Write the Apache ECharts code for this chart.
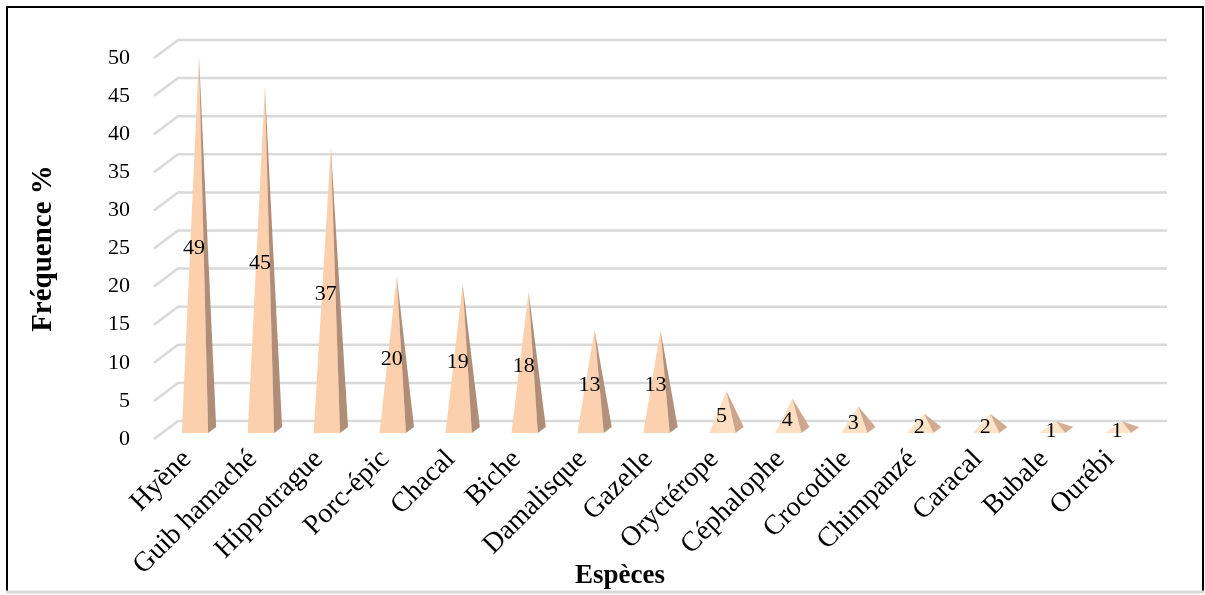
<!DOCTYPE html>
<html>
<head>
<meta charset="utf-8">
<script src="https://cdn.jsdelivr.net/npm/echarts@6/dist/echarts.min.js"></script>
<style>
html,body{margin:0;padding:0;background:#fff;}
#chart{width:1205px;height:595px;}
</style>
</head>
<body>
<div id="chart"></div>
<script>
const categories = ['Hyène','Guib hamaché','Hippotrague','Porc-épic','Chacal','Biche','Damalisque','Gazelle','Oryctérope','Céphalophe','Crocodile','Chimpanzé','Caracal','Bubale','Ourébi'];
const values = [49,45,37,20,19,18,13,13,5,4,3,2,2,1,1];
const yTicks = [0,5,10,15,20,25,30,35,40,45,50];

const FONT = '"Liberation Serif", "Times New Roman", serif';
const DX = 24, DY = 18; // depth offsets of the 3D floor

function mix(a, b, t) {
  const pa = a.match(/\w\w/g).map(h => parseInt(h, 16));
  const pb = b.match(/\w\w/g).map(h => parseInt(h, 16));
  return 'rgb(' + pa.map((x, i) => Math.round(x + (pb[i] - x) * t)).join(',') + ')';
}

const chart = echarts.init(document.getElementById('chart'), null, {renderer: 'canvas'});

const option = {
  backgroundColor: '#fff',
  animation: false,
  grid: {left: 154, right: 62, top: 58, bottom: 156, containLabel: false},
  xAxis: {
    type: 'category',
    data: categories,
    axisLine: {show: false},
    axisTick: {show: false},
    axisLabel: {rotate: 45, fontSize: 28, fontFamily: FONT, color: '#000', margin: 16, interval: 0}
  },
  yAxis: {
    type: 'value',
    min: 0, max: 50, interval: 5,
    name: 'Fréquence %',
    nameLocation: 'middle',
    nameGap: 96,
    nameTextStyle: {fontSize: 29, fontWeight: 'bold', fontFamily: FONT, color: '#000'},
    axisLine: {show: false},
    axisTick: {show: false},
    splitLine: {show: false},
    axisLabel: {fontSize: 22, fontFamily: FONT, color: '#000', margin: 24}
  },
  graphic: [
    {type: 'rect', shape: {x: 7, y: 7, width: 1196, height: 585}, style: {fill: 'none', stroke: '#000', lineWidth: 2}, z: 100},
    {type: 'line', shape: {x1: 6, y1: 592, x2: 1204, y2: 592}, style: {stroke: '#d9d9d9', lineWidth: 3}, z: 101},
    {type: 'text', x: 620, y: 576, style: {text: 'Espèces', fontSize: 27, fontWeight: 'bold', fontFamily: FONT, fill: '#000', align: 'center', verticalAlign: 'middle'}}
  ],
  series: [
    {
      type: 'custom',
      name: 'grid',
      silent: true,
      z: 1,
      data: yTicks.map(v => [0, v]),
      renderItem: function (params, api) {
        const cs = params.coordSys;
        const y = api.coord([0, api.value(1)])[1];
        return {
          type: 'polyline',
          shape: {points: [[cs.x, y], [cs.x + DX, y - DY], [cs.x + cs.width + DX, y - DY]]},
          style: {stroke: '#d9d9d9', lineWidth: 2.5, fill: null}
        };
      }
    },
    {
      type: 'custom',
      name: 'Fréquence',
      z: 2,
      data: values.map((v, i) => [i, v]),
      renderItem: function (params, api) {
        const i = api.value(0), v = api.value(1);
        const base = api.coord([i, 0]);
        const top = api.coord([i, v]);
        const mid = api.coord([i, v / 2]);
        const hw = api.size([1, 0])[0] * 0.2;
        const cx = base[0], by = base[1];
        const fl = [cx - hw + 8, by - 6];
        const fr = [cx + hw + 8, by - 6];
        const br = [cx + hw + 16, by - 12];
        const tip = [cx + 12, top[1] - 10];
        const t = Math.min(1, v / 14);
        const front = mix('fde6cb', 'fccfad', t);
        const side = mix('d8b096', 'b08d77', t);
        return {
          type: 'group',
          children: [
            {type: 'polygon', shape: {points: [fl, fr, tip]}, style: {fill: front}},
            {type: 'polygon', shape: {points: [fr, br, tip]}, style: {fill: side}},
            {type: 'text', x: cx + 7, y: mid[1] - 4, z2: 10,
             style: {text: String(v), fontSize: 22, fontFamily: FONT, fill: '#000', align: 'center', verticalAlign: 'middle'}}
          ]
        };
      }
    }
  ]
};
chart.setOption(option);
</script>
</body>
</html>
